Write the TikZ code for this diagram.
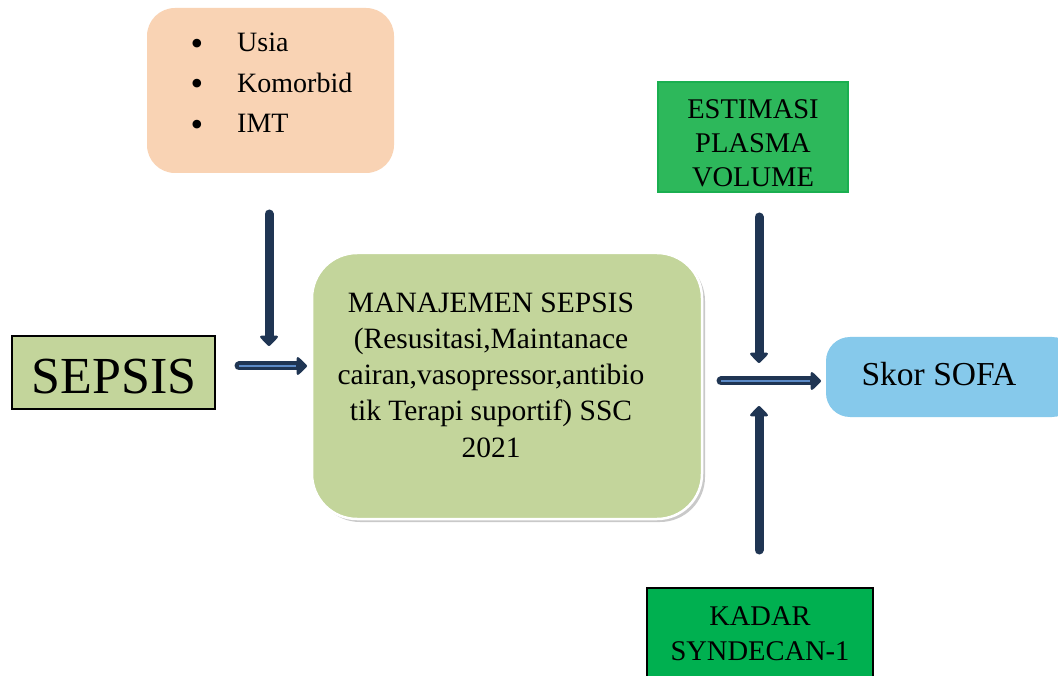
\documentclass[tikz,border=0pt]{standalone}
\usepackage{fontspec}
\setmainfont{Liberation Serif}
\usetikzlibrary{arrows.meta,shadows}
\definecolor{peach}{HTML}{F9D3B4}
\definecolor{olive}{HTML}{C3D59B}
\definecolor{estgreen}{HTML}{2DB85B}
\definecolor{estborder}{HTML}{1AAF50}
\definecolor{kadgreen}{HTML}{00B050}
\definecolor{sky}{HTML}{86C9EB}
\definecolor{navy}{HTML}{1F3553}
\definecolor{stripe}{HTML}{5B8AC7}
\tikzset{
  fz/.style n args={2}{font=\fontsize{#1}{#2}\selectfont},
  flow/.style={draw=navy, line width=9pt, line cap=round,
    -{Triangle[length=11pt,width=21pt,round]}},
  stripeline/.style={draw=stripe, line width=1.1pt},
  txt/.style={inner sep=0pt, anchor=base west},
  bul/.style={fz={36}{36}, inner sep=0pt},
}
\begin{document}
\begin{tikzpicture}[x=1pt,y=-1pt]
\clip (0,0) rectangle (1058,676);
\fill[white] (0,0) rectangle (1058,676);

% peach box
\node[fill=peach, rounded corners=28pt, minimum width=247pt, minimum height=165pt, inner sep=0pt] (risk) at (270.5,90.5) {};
\node[bul] (b1) at (197,47) {\textbullet};
\node[bul] (b2) at (197,87) {\textbullet};
\node[bul] (b3) at (197,128) {\textbullet};
\node[txt, fz={28}{34}] (t1) at (237,52) {Usia};
\node[txt, fz={28}{34}] (t2) at (237,93) {Komorbid};
\node[txt, fz={28}{34}] (t3) at (237,133) {IMT};

% sepsis
\node[fill=olive, draw=black, line width=1.5pt, minimum width=203pt, minimum height=73pt, inner sep=0pt] (sepsis) at (113.5,372.5) {};
\node[fz={52}{60}, inner sep=0pt, anchor=base] (sepsist) at (114,394) {SEPSIS};

% main box
\node[fill=olive, draw=white, line width=2.5pt, rounded corners=45pt, minimum width=390pt, minimum height=266pt, inner sep=0pt,
  drop shadow={shadow xshift=3pt, shadow yshift=-3pt, opacity=0.35, fill=black!60}] (man) at (507,386) {};
\node[fz={29.5}{36.2}, align=center, anchor=base, inner sep=0pt] (mant) at (491,457)
 {MANAJEMEN SEPSIS\\(Resusitasi,Maintanace\\cairan,vasopressor,antibio\\tik Terapi suportif) SSC\\2021};

% estimasi
\node[fill=estgreen, draw=estborder, line width=1.2pt, minimum width=190pt, minimum height=110pt, inner sep=0pt] (est) at (753,137) {};
\node[fz={28.5}{34}, align=center, anchor=base, inner sep=0pt] (estt) at (753,187) {ESTIMASI\\PLASMA\\VOLUME};

% kadar
\node[fill=kadgreen, draw=black, line width=1.2pt, minimum width=226pt, minimum height=110pt, inner sep=0pt] (kad) at (760,643) {};
\node[fz={28.5}{35}, align=center, anchor=base, inner sep=0pt] (kadt) at (760,660) {KADAR\\SYNDECAN-1};

% skor sofa
\node[fill=sky, rounded corners=24pt, minimum width=250pt, minimum height=80pt, inner sep=0pt] (sofa) at (951,377) {};
\node[fz={33.5}{40}, anchor=base, inner sep=0pt] (sofat) at (939,385) {Skor SOFA};

% arrow coordinates
\coordinate (a1s) at (269,214);
\coordinate (a1e) at (269,346);
\coordinate (a2s) at (239,366);
\coordinate (a2e) at (307,366);
\coordinate (a3s) at (721,381);
\coordinate (a3e) at (821,381);
\coordinate (a4s) at (759,217);
\coordinate (a4e) at (759,363);
\coordinate (a5s) at (759,550);
\coordinate (a5e) at (759,406);

\draw[flow] (a1s) -- (a1e);
\draw[flow] (a2s) -- (a2e);
\draw[stripeline] (a2s) -- ([xshift=-11pt]a2e);
\draw[flow] (a3s) -- (a3e);
\draw[stripeline] (a3s) -- ([xshift=-11pt]a3e);
\draw[flow] (a4s) -- (a4e);
\draw[flow] (a5s) -- (a5e);
\end{tikzpicture}
\end{document}
